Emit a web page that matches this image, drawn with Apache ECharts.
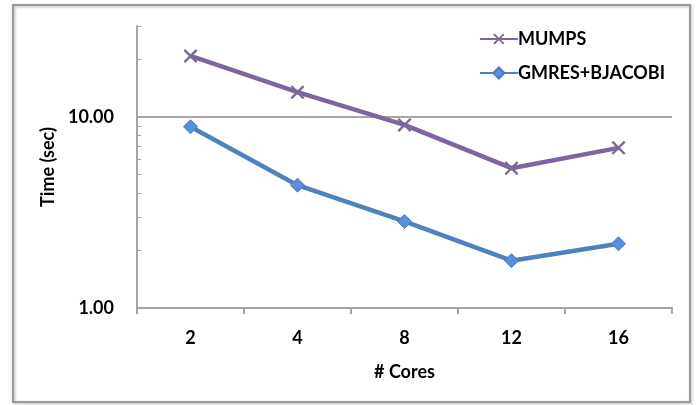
<!DOCTYPE html>
<html>
<head>
<meta charset="utf-8">
<script src="https://cdn.jsdelivr.net/npm/echarts@6/dist/echarts.min.js"></script>
<style>html,body{margin:0;padding:0;background:#fff}#c{width:696px;height:405px}</style>
</head>
<body>
<div id="c"></div>
<script>
var categories = ['2', '4', '8', '12', '16'];
var mumps = [20.9, 13.5, 9.1, 5.4, 6.9];
var gmres = [8.9, 4.4, 2.84, 1.77, 2.17];
var yLabelValues = [1, 10];
var yTickValues = [1, 2, 3, 4, 5, 6, 7, 8, 9, 10, 20, 30];

var chart = echarts.init(document.getElementById('c'), null, {renderer: 'canvas'});
var fontFam = 'Lato, "Open Sans", sans-serif';
var crossPath = 'path://M0,1.2 L1.2,0 L10,8.8 L8.8,10 Z M8.8,0 L10,1.2 L1.2,10 L0,8.8 Z';
chart.setOption({
  animation: false,
  backgroundColor: '#fff',
  graphic: [{
    type: 'rect', shape: {x: 13, y: 5, width: 677, height: 397},
    style: {fill: 'none', stroke: '#9a9a9a', lineWidth: 2, shadowBlur: 3, shadowColor: 'rgba(0,0,0,0.3)', shadowOffsetX: 1, shadowOffsetY: 1},
    silent: true, z: -1
  }],
  grid: {left: 137, right: 24, top: 26, bottom: 97},
  legend: {
    right: 26, top: 25, orient: 'vertical', itemGap: 16,
    itemWidth: 38, itemHeight: 14,
    textStyle: {fontFamily: fontFam, fontWeight: 'bold', fontSize: 18, color: '#000', padding: [0,0,0,-5]},
    data: ['MUMPS', 'GMRES+BJACOBI']
  },
  xAxis: {
    type: 'category', data: categories, boundaryGap: true,
    name: '# Cores', nameLocation: 'middle', nameGap: 55,
    nameTextStyle: {fontFamily: fontFam, fontWeight: 'bold', fontSize: 18, color: '#000'},
    axisLine: {lineStyle: {color: '#a6a6a6', width: 2}},
    axisTick: {show: true, length: 6, lineStyle: {color: '#a6a6a6', width: 2}},
    axisLabel: {fontFamily: fontFam, fontWeight: 'bold', fontSize: 18, color: '#000', margin: 21}
  },
  yAxis: {
    type: 'log', logBase: 10, min: 1, max: 30,
    name: 'Time (sec)', nameLocation: 'middle', nameGap: 76,
    nameTextStyle: {fontFamily: fontFam, fontWeight: 'bold', fontSize: 18, color: '#000'},
    axisLine: {show: true, lineStyle: {color: '#a6a6a6', width: 2}},
    axisTick: {show: true, inside: true, length: 4, customValues: yTickValues, lineStyle: {color: '#a6a6a6', width: 1}},
    axisLabel: {customValues: yLabelValues, fontFamily: fontFam, fontWeight: 'bold', fontSize: 18, color: '#000', margin: 23,
      formatter: function (v) { return Number(v).toFixed(2); }},
    splitLine: {show: false}
  },
  series: [{
    name: 'MUMPS', type: 'line', data: mumps,
    color: '#8064A2',
    lineStyle: {width: 4.5, color: '#8064A2'},
    symbol: crossPath, symbolSize: 14,
    itemStyle: {color: '#7a6a95'},
    markLine: {silent: true, symbol: 'none', label: {show: false},
      lineStyle: {color: '#a6a6a6', width: 2, type: 'solid'}, data: [{yAxis: 10}], z: 1},
    z: 3
  }, {
    name: 'GMRES+BJACOBI', type: 'line', data: gmres,
    color: '#4F81BD',
    lineStyle: {width: 4.5, color: '#4F81BD'},
    symbol: 'diamond', symbolSize: 14,
    itemStyle: {color: '#5b8fd6', borderColor: '#4a7cc0', borderWidth: 1},
    z: 3
  }]
});
</script>
</body>
</html>
